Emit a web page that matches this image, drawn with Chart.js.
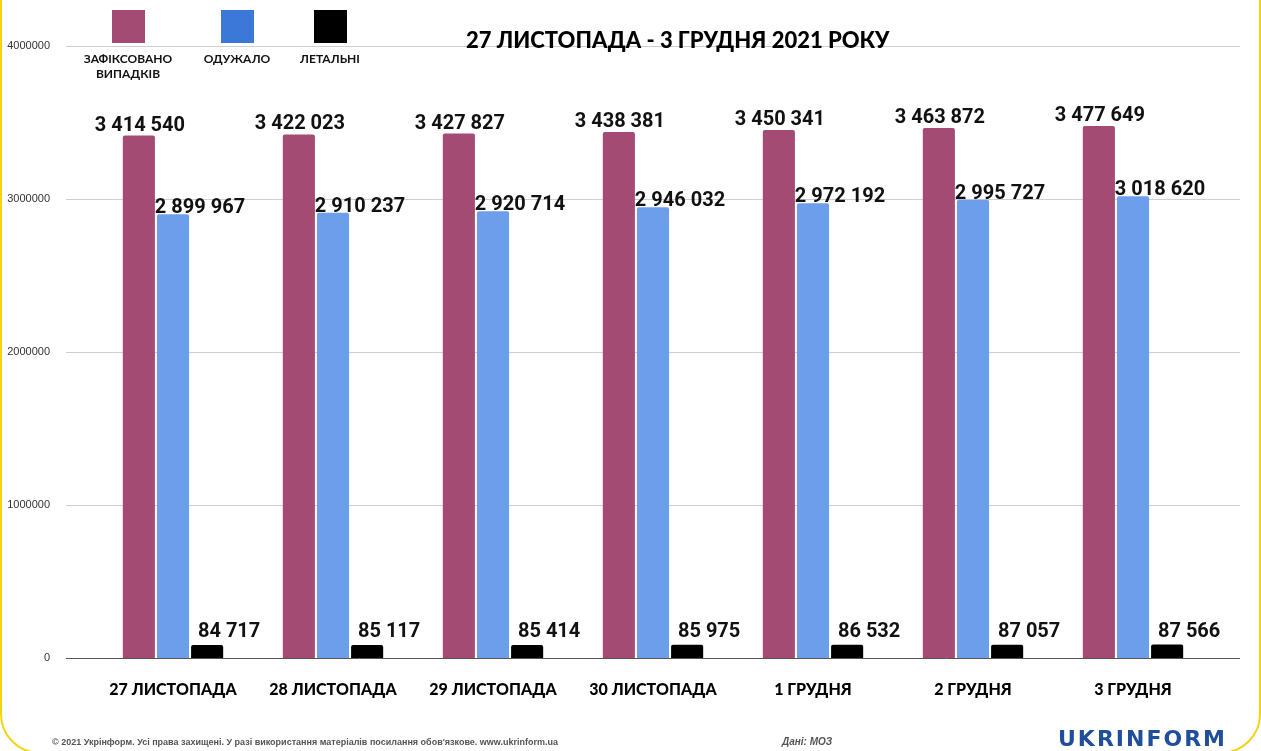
<!DOCTYPE html>
<html>
<head>
<meta charset="utf-8">
<script src="https://cdn.jsdelivr.net/npm/chart.js@4.4.0/dist/chart.umd.min.js"></script>
<style>
  html, body { margin: 0; padding: 0; background: #fff; overflow: hidden; }
  #page { position: relative; width: 1261px; height: 751px; overflow: hidden; background: #fff; }
  #frame { position: absolute; left: 0; top: -60px; width: 1257px; height: 810px; border: 2px solid #F5D312; border-radius: 40px; }
  #chartBox { position: absolute; left: 0; top: 0; width: 1261px; height: 751px; }
  .title { position: absolute; left: 466px; top: 26px; width: 430px; font: 900 22px Lato, sans-serif; color: #000; white-space: nowrap; }
  .leg { position: absolute; text-align: center; font: bold 12px Lato, sans-serif; color: #111; line-height: 15px; }
  .leg .sw { width: 33px; height: 33px; margin: 0 auto 8px auto; }
  .footer { position: absolute; left: 52px; top: 737px; font: bold 9px Arial, sans-serif; color: #555; white-space: nowrap; }
  .source { position: absolute; left: 782px; top: 736px; font: italic bold 10px Arial, sans-serif; color: #555; }
  .logo { position: absolute; left: 1058px; top: 726px; font: 900 22px "DejaVu Sans", sans-serif; color: #1E4E9C; letter-spacing: 2px; }
</style>
</head>
<body>
<div id="page">
  <div id="chartBox"><canvas id="covidChart" width="1261" height="751"></canvas></div>
  <div id="frame"></div>
  <div class="title">27 ЛИСТОПАДА - 3 ГРУДНЯ 2021 РОКУ</div>
  <div class="leg" style="left:80px; top:10px; width:96px;"><div class="sw" style="background:#A44B74"></div>ЗАФІКСОВАНО<br>ВИПАДКІВ</div>
  <div class="leg" style="left:196px; top:10px; width:82px;"><div class="sw" style="background:#3C78D8"></div>ОДУЖАЛО</div>
  <div class="leg" style="left:290px; top:10px; width:80px;"><div class="sw" style="background:#000"></div>ЛЕТАЛЬНІ</div>
  <div class="footer">© 2021 Укрінформ. Усі права захищені. У разі використання матеріалів посилання обов'язкове. www.ukrinform.ua</div>
  <div class="source">Дані: МОЗ</div>
  <div class="logo">UKRINFORM</div>
</div>
<script>
const categories = ['27 ЛИСТОПАДА', '28 ЛИСТОПАДА', '29 ЛИСТОПАДА', '30 ЛИСТОПАДА', '1 ГРУДНЯ', '2 ГРУДНЯ', '3 ГРУДНЯ'];
const confirmedCases = [3414540, 3422023, 3427827, 3438381, 3450341, 3463872, 3477649];
const recovered = [2899967, 2910237, 2920714, 2946032, 2972192, 2995727, 3018620];
const deaths = [84717, 85117, 85414, 85975, 86532, 87057, 87566];
const yTicks = [0, 1000000, 2000000, 3000000, 4000000];

// number with spaces as thousands separator
function formatNum(v) {
    return String(v).replace(/\B(?=(\d{3})+(?!\d))/g, ' ');
}

// gridlines run wider than the bar area
const gridPlugin = {
    id: 'wideGrid',
    beforeDatasetsDraw(chart) {
        const ctx = chart.ctx;
        const y = chart.scales.y;
        ctx.save();
        ctx.strokeStyle = '#cfcfcf';
        ctx.lineWidth = 1;
        y.ticks.forEach(t => {
            if (t.value === 0) return;
            const py = Math.round(y.getPixelForValue(t.value)) + 0.5;
            ctx.beginPath();
            ctx.moveTo(66, py);
            ctx.lineTo(1240, py);
            ctx.stroke();
        });
        // zero line a bit darker
        const p0 = Math.round(y.getPixelForValue(0)) + 0.5;
        ctx.strokeStyle = '#555';
        ctx.beginPath();
        ctx.moveTo(66, p0);
        ctx.lineTo(1240, p0);
        ctx.stroke();
        ctx.restore();
    }
};

const labelPlugin = {
    id: 'valueLabels',
    afterDatasetsDraw(chart) {
        const ctx = chart.ctx;
        const offsets = [[1, 5], [27, 1], [22, 8]];
        ctx.save();
        ctx.font = 'bold 20px Roboto, sans-serif';
        ctx.fillStyle = '#111';
        ctx.textAlign = 'center';
        ctx.textBaseline = 'alphabetic';
        chart.data.datasets.forEach((ds, i) => {
            const meta = chart.getDatasetMeta(i);
            meta.data.forEach((bar, j) => {
                ctx.fillText(formatNum(ds.data[j]), bar.x + offsets[i][0], bar.y - offsets[i][1]);
            });
        });
        ctx.restore();
    }
};

const ctx = document.getElementById('covidChart').getContext('2d');
new Chart(ctx, {
    type: 'bar',
    data: {
        labels: categories,
        datasets: [
            { label: 'ЗАФІКСОВАНО ВИПАДКІВ', data: confirmedCases, backgroundColor: '#A44B74' },
            { label: 'ОДУЖАЛО', data: recovered, backgroundColor: '#6D9EEB' },
            { label: 'ЛЕТАЛЬНІ', data: deaths, backgroundColor: '#000000' }
        ]
    },
    options: {
        responsive: false,
        animation: false,
        layout: { padding: { top: 46, right: 48, bottom: 53, left: 0 } },
        datasets: {
            bar: { categoryPercentage: 0.64, barPercentage: 0.94, borderRadius: { topLeft: 2, topRight: 2 }, borderSkipped: 'bottom' }
        },
        plugins: {
            legend: { display: false },
            tooltip: { enabled: false }
        },
        scales: {
            x: {
                grid: { display: false },
                border: { display: false },
                ticks: {
                    color: '#000',
                    font: { family: 'Lato', size: 16, weight: 900 },
                    padding: 14,
                    maxRotation: 0
                },
                afterFit(scale) { scale.height = 40; }
            },
            y: {
                min: 0,
                max: 4000000,
                grid: { display: false },
                border: { display: false },
                afterBuildTicks(scale) { scale.ticks = yTicks.map(v => ({ value: v })); },
                ticks: {
                    color: '#333',
                    font: { family: 'Arial', size: 11 },
                    padding: 35,
                    callback: v => String(v)
                },
                afterFit(scale) { scale.width = 93; }
            }
        }
    },
    plugins: [gridPlugin, labelPlugin]
});
</script>
</body>
</html>
